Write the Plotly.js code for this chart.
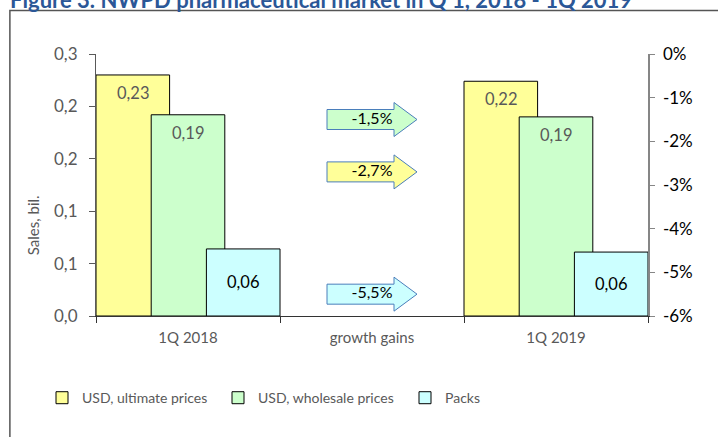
<!DOCTYPE html>
<html>
<head>
<meta charset="utf-8">
<script src="https://cdn.plot.ly/plotly-3.0.1.min.js"></script>
<style>html,body{margin:0;padding:0;background:#fff;}#chart{width:718px;height:437px;}</style>
</head>
<body>
<div id="chart"></div>
<script>
// ---- data ----
const categories = ["1Q 2018", "growth gains", "1Q 2019"];
const seriesNames = ["USD, ultimate prices", "USD, wholesale prices", "Packs"];
const ultimateValues = [0.230, null, 0.224];
const wholesaleValues = [0.192, null, 0.190];
const packsValues = [0.064, null, 0.061];
const growthValues = [-2.7, -1.5, -5.5];   // ultimate, wholesale, packs (%)
const yTickVals = [0, 0.05, 0.10, 0.15, 0.20, 0.25];
const yTickText = ["0,0", "0,1", "0,1", "0,2", "0,2", "0,3"];
const y2TickVals = [0, -1, -2, -3, -4, -5, -6];
const y2TickText = ["0%", "-1%", "-2%", "-3%", "-4%", "-5%", "-6%"];
const titleText = "Figure 3. NWPD pharmaceutical market in Q 1, 2018 - 1Q 2019";

// ---- styles ----
const fills = ["#ffff99", "#ccffcc", "#ccffff"];
const offsets = [-0.5, -0.2, 0.1];
const barWidth = 0.4;
const labelColors = ["#595959", "#595959", "#000000"];
const legendIds = ['legend', 'legend2', 'legend3'];
const legendX = [42, 218, 405];
const FONT = "Lato, 'Open Sans', sans-serif";
const fmt = (v, d) => v.toFixed(d).replace('.', ',');

const allSeries = [ultimateValues, wholesaleValues, packsValues];
const traces = allSeries.map((vals, i) => ({
  type: 'bar', name: seriesNames[i], x: categories, y: vals,
  offset: offsets[i], width: barWidth, legend: legendIds[i],
  marker: {color: fills[i], line: {color: '#000', width: 1}},
  hoverinfo: 'skip'
}));

// growth labels in arrows
const growthX = growthValues.map(() => categories[1]);
traces.push({
  type: 'scatter', mode: 'text', x: growthX, y: growthValues, yaxis: 'y2',
  text: growthValues.map(v => fmt(v, 1) + '%'), textposition: 'middle center',
  textfont: {family: FONT, size: 16, color: '#000'}, showlegend: false, hoverinfo: 'skip'
});

// arrows (pixel-sized shapes anchored to data value on y2)
const arrowPath = "M-45,-10 L22,-10 L22,-17 L45,0 L22,17 L22,10 L-45,10 Z";
const shapes = growthValues.map((v, i) => ({
  type: 'path', xref: 'x', yref: 'y2', xsizemode: 'pixel', ysizemode: 'pixel',
  xanchor: 1, yanchor: v, path: arrowPath, layer: 'below',
  fillcolor: fills[i], line: {color: '#4a7ebb', width: 1}
}));
// outer frame
shapes.push({type: 'rect', xref: 'paper', yref: 'paper', x0: -0.156, x1: 1.4, y0: -0.7, y1: 1.166,
  line: {color: '#555', width: 1.5}, fillcolor: 'rgba(0,0,0,0)', layer: 'below'});

// data labels
const annotations = [];
allSeries.forEach((vals, i) => {
  vals.forEach((v, j) => {
    if (v === null) return;
    const isPacks = i === 2;
    annotations.push({
      x: j + offsets[i] + barWidth / 2, y: isPacks ? v / 2 : v, xref: 'x', yref: 'y',
      text: fmt(v, 2), showarrow: false, xanchor: 'center', yanchor: isPacks ? 'middle' : 'top', yshift: isPacks ? 0 : -6,
      font: {family: FONT, size: 16.5, color: labelColors[i]}
    });
  });
});
annotations.push({
  x: -0.114, y: 0.347, xref: 'paper', yref: 'paper', text: 'Sales, bil.', textangle: -90,
  xanchor: 'center', yanchor: 'middle',
  showarrow: false, font: {family: FONT, size: 15, color: '#595959'}
});

const layout = {
  width: 718, height: 437,
  margin: {l: 96, r: 70, t: 54, b: 121},
  paper_bgcolor: '#fff', plot_bgcolor: 'rgba(0,0,0,0)',
  barmode: 'overlay',
  font: {family: FONT, color: '#595959'},
  title: {text: titleText, x: 0.014, xanchor: 'left', xref: 'container', y: 1, yref: 'container', yanchor: 'middle',
    font: {family: FONT, size: 22, color: '#2b5797', weight: 'bold'}},
  xaxis: {type: 'category', range: [-0.5, 2.5], showgrid: false, showline: true, linecolor: '#333', linewidth: 1,
    ticks: 'outside', tickson: 'boundaries', ticklen: 6, tickcolor: '#333',
    tickfont: {family: FONT, size: 15, color: '#595959'}, ticklabelstandoff: 8, fixedrange: true},
  yaxis: {range: [0, 0.25], tickvals: yTickVals, ticktext: yTickText, showgrid: false, zeroline: false,
    showline: true, linecolor: '#595959', ticks: 'outside', ticklen: 6, tickcolor: '#595959',
    tickfont: {family: FONT, size: 17, color: '#595959'}, ticklabelstandoff: 8, fixedrange: true},
  yaxis2: {overlaying: 'y', side: 'right', range: [-6, 0], tickvals: y2TickVals, ticktext: y2TickText,
    showgrid: false, zeroline: false, showline: true, linecolor: '#868686', linewidth: 1.5,
    ticks: 'outside', ticklen: 5, tickcolor: '#868686',
    tickfont: {family: FONT, size: 17, color: '#000'}, ticklabelstandoff: 5, fixedrange: true},
  shapes: shapes,
  annotations: annotations,
  showlegend: true
};
legendIds.forEach((id, i) => {
  layout[id] = {orientation: 'h', xref: 'container', yref: 'container', x: legendX[i] / 718, y: 0.089,
    xanchor: 'left', yanchor: 'middle', font: {family: FONT, size: 14, color: '#595959'},
    bgcolor: 'rgba(0,0,0,0)', itemwidth: 30};
});

Plotly.newPlot('chart', traces, layout, {displayModeBar: false, staticPlot: true});
</script>
</body>
</html>
